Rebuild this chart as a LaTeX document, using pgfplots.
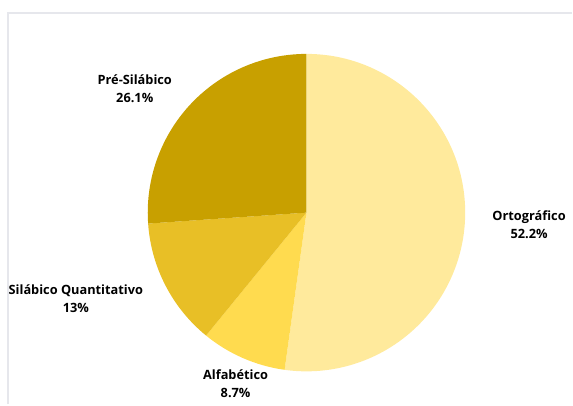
\documentclass[border=0pt]{standalone}
\usepackage{pgfplots}
\pgfplotsset{compat=1.18}
\usepackage{pgfplotstable}
\usepackage{fontspec}
\setmainfont{Open Sans}
\definecolor{cOrto}{HTML}{FFEA9C}
\definecolor{cAlfa}{HTML}{FFDB4F}
\definecolor{cSila}{HTML}{E8BF26}
\definecolor{cPre}{HTML}{C8A000}
\definecolor{frame}{HTML}{E6E7EC}
\pgfplotstableread{
value color
52.2 cOrto
8.7 cAlfa
13 cSila
26.1 cPre
}\piedata
\begin{document}
\begin{tikzpicture}
\begin{axis}[
  scale only axis, width=573pt, height=405pt,
  xmin=0, xmax=573, ymin=0, ymax=405,
  hide axis, clip=false,
]
\path (axis cs:0,0) rectangle (axis cs:573,405);
\draw[frame, line width=2pt] (axis cs:8,0) -- (axis cs:8,392) -- (axis cs:573,392);
\pgfplotstablegetrowsof{\piedata}
\pgfmathtruncatemacro\N{\pgfplotsretval-1}
\xdef\startang{90}
\foreach \i in {0,...,\N}{
  \pgfplotstablegetelem{\i}{value}\of{\piedata}
  \let\val\pgfplotsretval
  \pgfplotstablegetelem{\i}{color}\of{\piedata}
  \let\col\pgfplotsretval
  \pgfmathsetmacro\endang{\startang-3.6*\val}
  \edef\temp{\noexpand\fill[\col] (axis cs:307,192) -- ++(\startang:159pt) arc[start angle=\startang, end angle=\endang, radius=159pt] -- cycle;}
  \temp
  \xdef\startang{\endang}
}
\tikzset{lbl/.style={font=\bfseries\fontsize{12.8}{18}\selectfont, align=center, inner sep=0pt}}
\node[lbl] at (axis cs:135,316) {Pré-Silábico\\26.1\%};
\node[lbl] at (axis cs:76,106) {Silábico Quantitativo\\13\%};
\node[lbl] at (axis cs:236,21) {Alfabético\\8.7\%};
\node[lbl] at (axis cs:530,180) {Ortográfico\\52.2\%};
\end{axis}
\end{tikzpicture}
\end{document}
